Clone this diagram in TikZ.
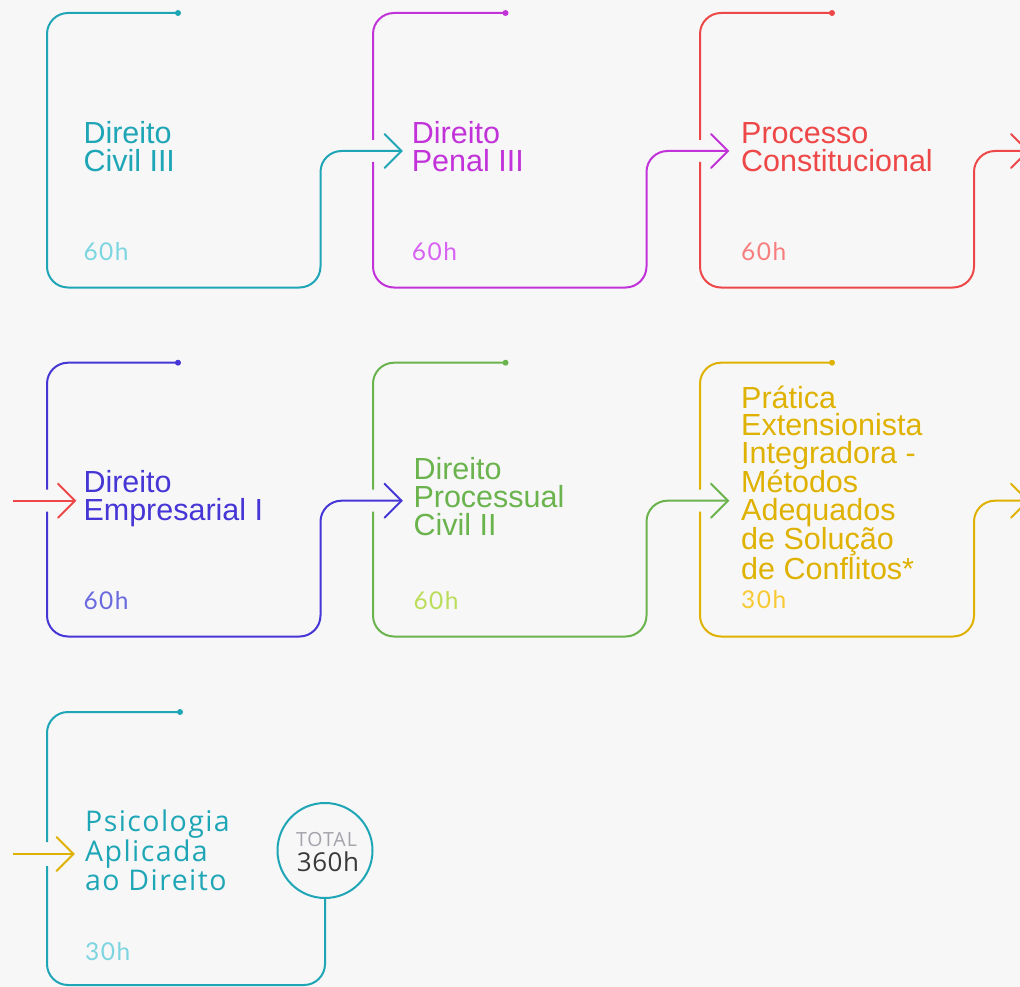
\documentclass[tikz,border=0pt]{standalone}
\usepackage{fontspec}
\setmainfont{Liberation Sans}
\newfontfamily\hrsfont[LetterSpace=6]{Lato}
\newfontfamily\museo[LetterSpace=2]{Open Sans}
\newfontfamily\museowide[LetterSpace=5]{Open Sans}
\definecolor{bg}{HTML}{F7F7F8}
\definecolor{cteal}{HTML}{1FA6B6}
\definecolor{cpurple}{HTML}{C232D9}
\definecolor{cred}{HTML}{EE4747}
\definecolor{cblue}{HTML}{4736D6}
\definecolor{cgreen}{HTML}{6AB34D}
\definecolor{cyellow}{HTML}{DFB100}
\definecolor{hteal}{HTML}{7DD5E0}
\definecolor{hpurple}{HTML}{D862F2}
\definecolor{hred}{HTML}{F77E7E}
\definecolor{hblue}{HTML}{6A6ADF}
\definecolor{hgreen}{HTML}{BBDD5A}
\definecolor{hyellow}{HTML}{F7C933}
\definecolor{tgray}{HTML}{A3A3AB}
\definecolor{tdark}{HTML}{3A3A3A}
\tikzset{
  outline/.style={line width=2pt, rounded corners=21pt},
  chev/.style={line width=2pt, sharp corners, line cap=round, line join=miter},
  title/.style={anchor=base west, inner sep=0pt, font=\fontsize{30.5}{28}\selectfont},
  hours/.style={anchor=base west, inner sep=0pt, font=\hrsfont\fontsize{24.5}{24}\selectfont},
}
\newcommand\ttl[1]{\parbox[t]{300pt}{\raggedright #1}}
\begin{document}
\begin{tikzpicture}[x=1pt,y=-1pt]
\useasboundingbox (0,0) rectangle (1020,987);
\fill[bg] (0,0) rectangle (1020,987);

% ---------- Row 1 ----------
% card 1 (teal)
\coordinate (d1) at (178,13);
\draw[outline, cteal] (d1) -| (47,287.5) -| (320.5,151) -- (401.5,151) coordinate (a1);
\draw[chev, cteal] (384.5,134) -- (a1) -- (384.5,168);
\fill[cteal] (d1) circle (3pt);
\node[title, text=cteal] (t1) at (83.3,144) {\ttl{Direito\\Civil III}};
\node[hours, text=hteal] (h1) at (83.3,260) {60h};

% card 2 (purple)
\coordinate (d2) at (505.5,13);
\draw[outline, cpurple] (d2) -| (373,140) (373,162) |- (646.5,287.5) |- (728,151) coordinate (a2);
\draw[chev, cpurple] (711,134) -- (a2) -- (711,168);
\fill[cpurple] (d2) circle (3pt);
\node[title, text=cpurple] (t2) at (411.7,144) {\ttl{Direito\\Penal III}};
\node[hours, text=hpurple] (h2) at (411.7,260) {60h};

% card 3 (red)
\coordinate (d3) at (832,13);
\draw[outline, cred] (d3) -| (700,140) (700,162) |- (974,287.5) |- (1028,151) coordinate (a3);
\draw[chev, cred] (1011,134) -- (a3) -- (1011,168);
\fill[cred] (d3) circle (3pt);
\node[title, text=cred] (t3) at (741,144) {\ttl{Processo\\Constitucional}};
\node[hours, text=hred] (h3) at (741,260) {60h};

% ---------- Row 2 ----------
% incoming red arrow
\coordinate (r2in) at (13,500.7);
\draw[line width=2pt, cred] (r2in) -- (75,500.7) coordinate (a4in);
\draw[chev, cred] (58,483.7) -- (a4in) -- (58,517.7);

% card 4 (blue)
\coordinate (d4) at (178,362.7);
\draw[outline, cblue] (d4) -| (47,489.7) (47,511.7) |- (320.5,636.5) |- (401.5,500.7) coordinate (a4);
\draw[chev, cblue] (384.5,483.7) -- (a4) -- (384.5,517.7);
\fill[cblue] (d4) circle (3pt);
\node[title, text=cblue] (t4) at (83.3,492.3) {\ttl{Direito\\Empresarial I}};
\node[hours, text=hblue] (h4) at (83.3,609.5) {60h};

% card 5 (green)
\coordinate (d5) at (505.5,362.7);
\draw[outline, cgreen] (d5) -| (373,489.7) (373,511.7) |- (646.5,636.5) |- (728,500.7) coordinate (a5);
\draw[chev, cgreen] (711,483.7) -- (a5) -- (711,517.7);
\fill[cgreen] (d5) circle (3pt);
\node[title, text=cgreen] (t5) at (413.3,479.3) {\ttl{Direito\\Processual\\Civil II}};
\node[hours, text=hgreen] (h5) at (413.3,609.5) {60h};

% card 6 (yellow)
\coordinate (d6) at (832,362.7);
\draw[outline, cyellow] (d6) -| (700,489.7) (700,511.7) |- (974,636.5) |- (1028,500.7) coordinate (a6);
\draw[chev, cyellow] (1011,483.7) -- (a6) -- (1011,517.7);
\fill[cyellow] (d6) circle (3pt);
\node[title, text=cyellow, font=\fontsize{30.5}{27.5}\selectfont] (t6) at (741,408) {\ttl{Prática\\Extensionista\\Integradora -\\Métodos\\Adequados\\de Solução\\de Conflitos*}};
\node[hours, text=hyellow] (h6) at (741,608) {30h};

% ---------- Row 3 ----------
\coordinate (r3in) at (13,854);
\draw[line width=2pt, cyellow] (r3in) -- (73.5,854) coordinate (a7in);
\draw[chev, cyellow] (56.5,837) -- (a7in) -- (56.5,871);

\node[circle, draw=cteal, line width=2pt, minimum size=95pt, inner sep=0pt] (total) at (325,850.5) {};
\node[anchor=base, inner sep=0pt, text=tgray, font=\museowide\fontsize{19.5}{19.5}\selectfont] (totlbl) at (326.5,846.7) {TOTAL};
\node[anchor=base, inner sep=0pt, text=tdark, font=\museo\fontsize{26}{26}\selectfont] (totval) at (328,871) {360h};

\coordinate (d7) at (180,712);
\draw[outline, cteal] (d7) -| (47,842) (47,866) |- (325,985) -- (total.south);
\fill[cteal] (d7) circle (3pt);
\node[title, text=cteal, font=\museowide\fontsize{28.5}{29.5}\selectfont] (t7) at (85,831.7) {\ttl{Psicologia\\Aplicada\\ao Direito}};
\node[hours, text=hteal] (h7) at (85,960.5) {30h};
\end{tikzpicture}
\end{document}
